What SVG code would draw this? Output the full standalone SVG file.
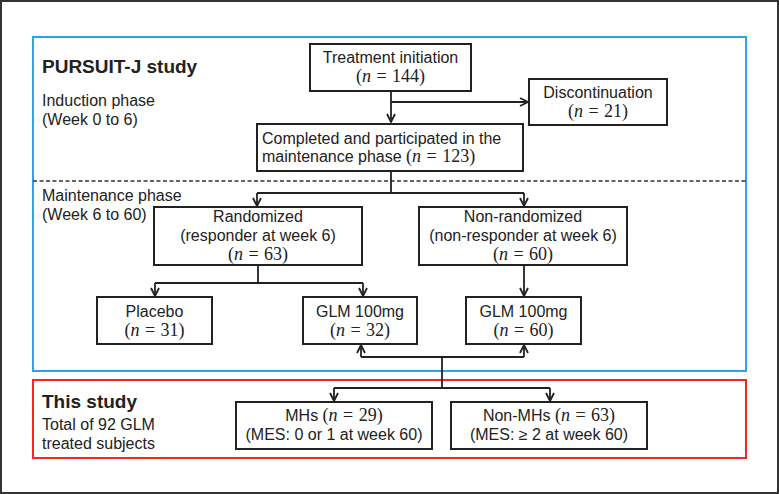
<svg xmlns="http://www.w3.org/2000/svg" width="779" height="494" viewBox="0 0 779 494">
<style>
.bg{fill:#fff}
.box{fill:#fff;stroke:#222;stroke-width:2}
.t{font-family:"Liberation Sans",Arial,sans-serif;font-size:16px;fill:#222}
.c{text-anchor:middle}
.b{font-weight:bold;font-size:19px}
.m{font-family:"Liberation Serif","Times New Roman",serif;font-size:18px;word-spacing:1px}
.i{font-style:italic}
.conn{fill:none;stroke:#222;stroke-width:1.8}
</style>
<defs>
<marker id="ah" viewBox="0 0 10 10" refX="9" refY="5" markerWidth="10" markerHeight="10" markerUnits="userSpaceOnUse" orient="auto">
<path d="M1,1 L9,5 L1,9" fill="none" stroke="#222" stroke-width="1.8"/>
</marker>
</defs>
<rect class="bg" x="0" y="0" width="779" height="494"/>
<rect x="1" y="1" width="777" height="492" fill="none" stroke="#333" stroke-width="2"/>
<g id="frames">
<rect x="33" y="37" width="713" height="334" fill="none" stroke="#2aa5e6" stroke-width="2"/>
<rect x="33" y="380" width="713" height="78" fill="none" stroke="#ff2222" stroke-width="2"/>
<line x1="33" y1="181" x2="746" y2="181" stroke="#333" stroke-width="1.5" stroke-dasharray="4,2.5"/>
</g>
<g id="labels">
<text class="t b" x="42" y="73">PURSUIT-J study</text>
<text class="t" x="42" y="106">Induction phase</text>
<text class="t" x="42" y="125">(Week 0 to 6)</text>
<text class="t" x="42" y="201">Maintenance phase</text>
<text class="t" x="42" y="220">(Week 6 to 60)</text>
<text class="t b" x="42" y="408">This study</text>
<text class="t" x="42" y="430">Total of 92 GLM</text>
<text class="t" x="42" y="449">treated subjects</text>
</g>
<g id="connectors">
<path class="conn" d="M391,91 V122" marker-end="url(#ah)"/>
<path class="conn" d="M391,102 H528" marker-end="url(#ah)"/>
<path class="conn" d="M391,171 V193 M257,193 H524"/>
<path class="conn" d="M257,193 V206" marker-end="url(#ah)"/>
<path class="conn" d="M524,193 V206" marker-end="url(#ah)"/>
<path class="conn" d="M258,265 V283 M155,283 H363"/>
<path class="conn" d="M155,283 V296" marker-end="url(#ah)"/>
<path class="conn" d="M363,283 V296" marker-end="url(#ah)"/>
<path class="conn" d="M524,265 V296" marker-end="url(#ah)"/>
<path class="conn" d="M442,388 V357 M361,357 H524"/>
<path class="conn" d="M361,357 V345" marker-end="url(#ah)"/>
<path class="conn" d="M524,357 V345" marker-end="url(#ah)"/>
<path class="conn" d="M334,388 H550"/>
<path class="conn" d="M334,388 V401" marker-end="url(#ah)"/>
<path class="conn" d="M550,388 V401" marker-end="url(#ah)"/>
</g>
<g id="treatment">
<rect class="box" x="310" y="44" width="161" height="47"/>
<text class="t c" x="390.5" y="63">Treatment initiation</text>
<text class="t m c" x="390.5" y="82">(<tspan class="i">n</tspan> = 144)</text>
</g>
<g id="discontinuation">
<rect class="box" x="529" y="79" width="138" height="46"/>
<text class="t c" x="598" y="98">Discontinuation</text>
<text class="t m c" x="598" y="117">(<tspan class="i">n</tspan> = 21)</text>
</g>
<g id="completed">
<rect class="box" x="257" y="124" width="266" height="47"/>
<text class="t" x="262" y="144">Completed and participated in the</text>
<text class="t" x="262" y="162">maintenance phase <tspan class="m">(<tspan class="i">n</tspan> = 123)</tspan></text>
</g>
<g id="randomized">
<rect class="box" x="154" y="207" width="208" height="58"/>
<text class="t c" x="258" y="222">Randomized</text>
<text class="t c" x="258" y="241">(responder at week 6)</text>
<text class="t m c" x="258" y="260">(<tspan class="i">n</tspan> = 63)</text>
</g>
<g id="nonrandomized">
<rect class="box" x="419" y="207" width="208" height="58"/>
<text class="t c" x="523" y="222">Non-randomized</text>
<text class="t c" x="523" y="241">(non-responder at week 6)</text>
<text class="t m c" x="523" y="260">(<tspan class="i">n</tspan> = 60)</text>
</g>
<g id="placebo">
<rect class="box" x="97" y="297" width="115" height="47"/>
<text class="t c" x="154.5" y="317">Placebo</text>
<text class="t m c" x="154.5" y="336">(<tspan class="i">n</tspan> = 31)</text>
</g>
<g id="glm32">
<rect class="box" x="303" y="297" width="114" height="47"/>
<text class="t c" x="360" y="317">GLM 100mg</text>
<text class="t m c" x="360" y="336">(<tspan class="i">n</tspan> = 32)</text>
</g>
<g id="glm60">
<rect class="box" x="466" y="297" width="115" height="47"/>
<text class="t c" x="523.5" y="317">GLM 100mg</text>
<text class="t m c" x="523.5" y="336">(<tspan class="i">n</tspan> = 60)</text>
</g>
<g id="mhs">
<rect class="box" x="236" y="402" width="196" height="47"/>
<text class="t c" x="334" y="421">MHs <tspan class="m">(<tspan class="i">n</tspan> = 29)</tspan></text>
<text class="t c" x="334" y="440">(MES: 0 or 1 at week 60)</text>
</g>
<g id="nonmhs">
<rect class="box" x="451" y="402" width="196" height="47"/>
<text class="t c" x="549" y="421">Non-MHs <tspan class="m">(<tspan class="i">n</tspan> = 63)</tspan></text>
<text class="t c" x="549" y="440">(MES: ≥ 2 at week 60)</text>
</g>
</svg>
